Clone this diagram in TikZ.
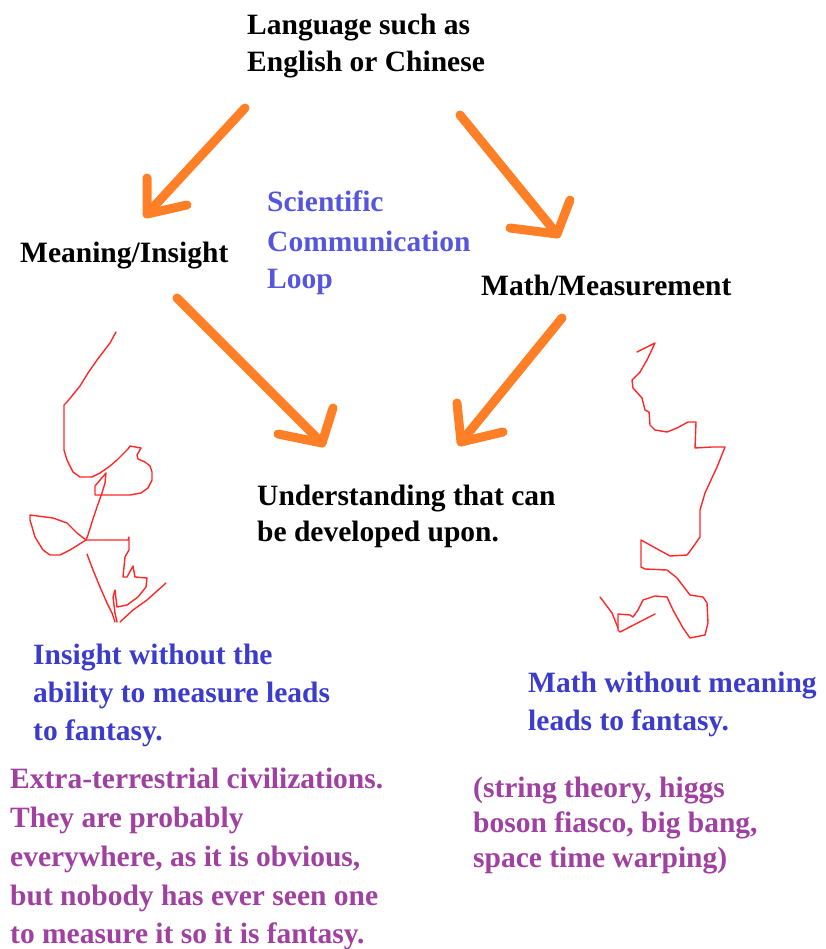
\documentclass[tikz,border=0pt]{standalone}
\usepackage{fontspec}
\setmainfont{Liberation Serif}
\definecolor{arroworange}{RGB}{255,127,39}
\definecolor{inkblue}{RGB}{60,60,204}
\definecolor{loopblue}{RGB}{85,85,222}
\definecolor{inkpurple}{RGB}{160,64,160}
\definecolor{scribred}{RGB}{255,40,40}
\begin{document}
\begin{tikzpicture}[x=1pt,y=-1pt,
  txt/.style={anchor=base west, inner sep=0pt,
    font=\fontsize{29.5}{37}\selectfont\bfseries},
  blk/.style={txt, text=black},
  blu/.style={txt, text=inkblue},
  lblu/.style={txt, text=loopblue},
  pur/.style={txt, text=inkpurple},
  flow/.style={draw=arroworange, line width=9pt, line cap=round, line join=round},
  scribble/.style={draw=scribred, line width=1.4pt, line join=round, line cap=round}]
\useasboundingbox (0,0) rectangle (826,949);

% ---- text ----
\node[blk] (lang1) at (247,35) {Language such as};
\node[blk] (lang2) at (247,72) {English or Chinese};
\node[blk] (mean) at (20,262) {Meaning/Insight};
\node[lblu] (loop1) at (267,212) {Scientific};
\node[lblu] (loop2) at (267,252) {Communication};
\node[lblu] (loop3) at (267,288) {Loop};
\node[blk] (math) at (481,295) {Math/Measurement};
\node[blk] (und1) at (257,505) {Understanding that can};
\node[blk] (und2) at (257,541) {be developed upon.};
\node[blu] (ins1) at (33,664) {Insight without the};
\node[blu] (ins2) at (33,702) {ability to measure leads};
\node[blu] (ins3) at (33,740) {to fantasy.};
\node[pur] (ext1) at (10,788) {Extra-terrestrial civilizations.};
\node[pur] (ext2) at (10,827) {They are probably};
\node[pur] (ext3) at (10,866) {everywhere, as it is obvious,};
\node[pur] (ext4) at (10,905) {but nobody has ever seen one};
\node[pur] (ext5) at (10,943) {to measure it so it is fantasy.};
\node[blu] (mwm1) at (528,692) {Math without meaning};
\node[blu] (mwm2) at (528,730) {leads to fantasy.};
\node[pur] (str1) at (473,797) {(string theory, higgs};
\node[pur] (str2) at (473,832) {boson fiasco, big bang,};
\node[pur] (str3) at (473,867) {space time warping)};

% ---- orange arrows ----
\coordinate (a1s) at (245,108); \coordinate (a1t) at (147,214);
\coordinate (a1l) at (147,178); \coordinate (a1r) at (187,205);
\coordinate (a2s) at (460,115); \coordinate (a2t) at (557,234);
\coordinate (a2l) at (570,200); \coordinate (a2r) at (510,228);
\coordinate (a3s) at (177,298); \coordinate (a3t) at (322,443);
\coordinate (a3l) at (333,408); \coordinate (a3r) at (278,434);
\coordinate (a4s) at (562,318); \coordinate (a4t) at (461,442);
\coordinate (a4l) at (457,403); \coordinate (a4r) at (503,432);
\foreach \a in {a1,a2,a3,a4}{
  \draw[flow] (\a s) -- (\a t);
  \draw[flow] (\a l) -- (\a t) -- (\a r);
}

% ---- red scribble under Meaning/Insight ----
\draw[scribble] (116,332) -- (110,343) -- (97,360) -- (88,373) -- (80,386)
  -- (67,402) -- (64,405) -- (64,430) -- (64,450) -- (67,460) -- (73,472)
  -- (80,477) -- (92,477) -- (100,473) -- (110,466) -- (117,460) -- (128,449)
  -- (130,446) -- (141,448) -- (137,455) -- (138,459) -- (145,462)
  -- (150,466) -- (152,472) -- (152,480) -- (148,488) -- (141,493)
  -- (130,495) -- (100,495) -- (95,495) -- (95,486) -- (106,473)
  -- (105,483) -- (102,493) -- (97,507) -- (92,522) -- (88,535) -- (86,540);
\draw[scribble] (86,540) -- (77,533) -- (67,523) -- (53,518) -- (30,515)
  -- (30,520) -- (35,537) -- (43,550) -- (50,555) -- (60,555) -- (70,550)
  -- (86,540);
\draw[scribble] (86,540) -- (97,540) -- (128,540) -- (129,537) -- (129,550)
  -- (125,557) -- (123,577) -- (127,577) -- (133,566) -- (135,577)
  -- (147,578) -- (146,587) -- (138,597) -- (127,605) -- (117,607)
  -- (115,590) -- (113,597) -- (115,613) -- (117,622);
\draw[scribble] (87,554) -- (93,570) -- (100,587) -- (107,603) -- (112,613)
  -- (115,622);
\draw[scribble] (120,622) -- (133,610) -- (147,600) -- (166,583);

% ---- red scribble under Math/Measurement ----
\draw[scribble] (637,352) -- (655,343) -- (647,360) -- (640,372) -- (632,380)
  -- (633,388) -- (642,398) -- (645,410) -- (649,412) -- (650,425)
  -- (655,430) -- (667,432) -- (677,428) -- (688,422) -- (696,422)
  -- (695,448) -- (712,447) -- (725,447) -- (717,467) -- (705,493)
  -- (700,510) -- (700,537) -- (693,547) -- (687,555) -- (670,556)
  -- (641,540) -- (641,567) -- (645,569) -- (667,570) -- (677,578)
  -- (690,595) -- (703,597) -- (707,603) -- (708,623) -- (705,635)
  -- (690,638) -- (683,628) -- (673,610) -- (667,597) -- (655,596)
  -- (643,600) -- (638,610) -- (633,617) -- (630,615) -- (618,614)
  -- (618,630) -- (620,632) -- (655,614);
\draw[scribble] (600,597) -- (612,613) -- (618,628);
\end{tikzpicture}
\end{document}
